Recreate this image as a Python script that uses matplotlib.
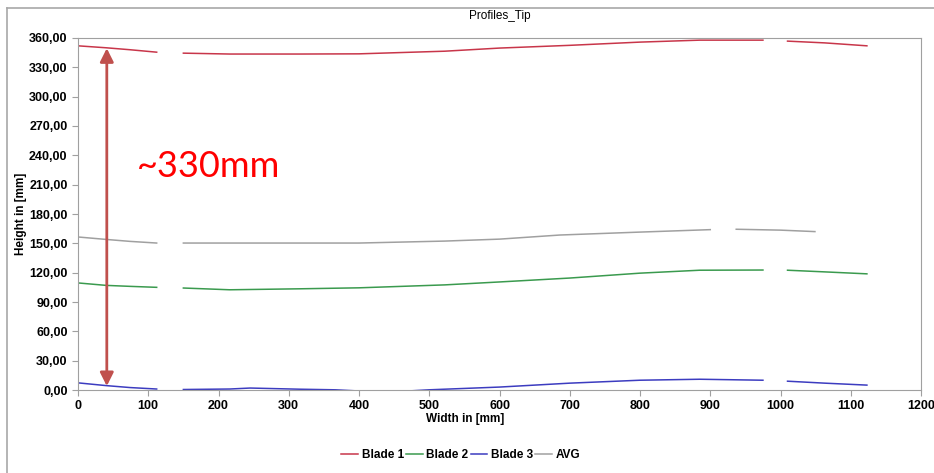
import numpy as np
import matplotlib.pyplot as plt
from matplotlib.lines import Line2D

# width positions [mm], NaN marks a gap in the measurement
x_blade = [0, 40, 74, 112, np.nan, 150, 216, 316, 400, 522, 600, 700, 800, 885, 975, np.nan,
           1010, 1063, 1123]
blade1 = [352, 350, 348, 345.5, np.nan, 344.5, 343.6, 343.6, 343.8, 346.5, 349.7, 352.5, 355.8, 357.8, 357.8, np.nan,
          356.8, 355, 352]
blade2 = [109.5, 107, 106, 105, np.nan, 104.3, 102.5, 103.5, 104.5, 107.5, 110.5, 114.5, 119.5, 122.5, 122.7, np.nan,
          122.5, 120.8, 118.8]

x_blade3 = [0, 40, 74, 112, np.nan, 150, 216, 245, 316, 366, 400, 470, 500, 600, 700, 800, 885, 975, np.nan,
            1010, 1063, 1123]
blade3 = [7.3, 4.5, 2.5, 1, np.nan, 0.5, 1, 2, 0.8, 0.2, -1, -1, 0.2, 3, 7, 10, 11, 10, np.nan,
          9, 7, 5]

x_avg = [0, 40, 74, 112, np.nan, 150, 216, 316, 400, 522, 600, 686, 800, 900, np.nan, 937, 1000, 1049]
avg = [156.5, 154, 152, 150.3, np.nan, 150.3, 150.3, 150.3, 150.3, 152.3, 154.3, 158.5, 161.5, 164, np.nan,
       164.4, 163.5, 162]

plt.rcParams['font.family'] = ['Liberation Sans', 'DejaVu Sans']

fig = plt.figure(figsize=(9.34, 4.73), dpi=100)
ax = fig.add_axes([78 / 934, 83 / 473, 843 / 934, 352 / 473])

# outer panel border (left and top only)
fig.add_artist(Line2D([7 / 934, 7 / 934], [0, 1 - 8 / 473], color='#a8a8a8', lw=1.2))
fig.add_artist(Line2D([7 / 934, 1], [1 - 8 / 473, 1 - 8 / 473], color='#a8a8a8', lw=1.2))

ax.plot(x_blade, blade1, color='#c8364a', lw=1.1, label='Blade 1')
ax.plot(x_blade, blade2, color='#3a9a4e', lw=1.1, label='Blade 2')
ax.plot(x_blade3, blade3, color='#3c3cc0', lw=1.1, label='Blade 3')
ax.plot(x_avg, avg, color='#a0a0a0', lw=1.1, label='AVG')

ax.set_xlim(0, 1200)
ax.set_ylim(0, 360)
ax.set_xticks(np.arange(0, 1201, 100))
ax.set_yticks(np.arange(0, 361, 30))
ax.set_yticklabels(['{:.2f}'.format(v).replace('.', ',') for v in np.arange(0, 361, 30)])

for s in ax.spines.values():
    s.set_color('#a0a0a0')
ax.tick_params(axis='both', colors='#a0a0a0', labelcolor='black', labelsize=9, length=4)
ax.tick_params(axis='x', pad=3)
for lbl in ax.get_xticklabels() + ax.get_yticklabels():
    lbl.set_fontweight('bold')

ax.set_title('Profiles_Tip', fontsize=8.5, pad=14)
ax.set_xlabel('Width in [mm]', fontsize=8.5, fontweight='bold', labelpad=2)
ax.xaxis.set_label_coords(0.459, -0.065)
ax.set_ylabel('Height in [mm]', fontsize=8.5, fontweight='bold')
ax.yaxis.set_label_coords(-0.061, 0.5)

# span annotation
ax.annotate('', xy=(41, 4), xytext=(41, 349.5),
            arrowprops=dict(arrowstyle='<|-|>', color='#c0504d', lw=2,
                            mutation_scale=20, shrinkA=0, shrinkB=0))
ax.text(84, 229, '~330mm', color='#ff0000', fontsize=26, family='Lato', va='center')

leg = ax.legend(loc='center', bbox_to_anchor=(0.454, -0.185), ncol=4, frameon=False,
                handlelength=1.4, handletextpad=0.3, columnspacing=0.2,
                prop={'size': 8.5, 'weight': 'bold'})

fig.savefig('out.png', dpi=100)
